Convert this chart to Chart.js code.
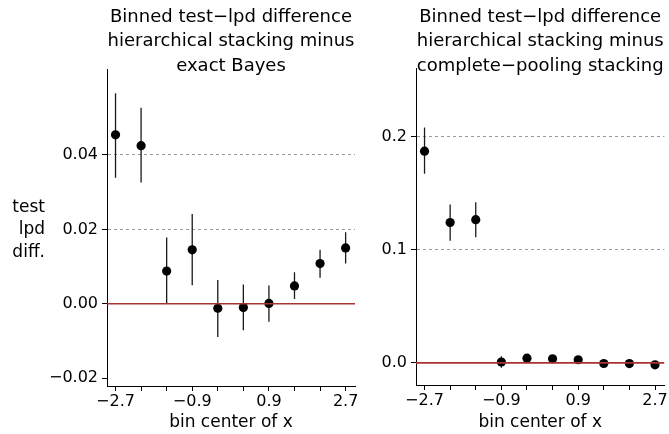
<!DOCTYPE html>
<html>
  <head>
    <title>Binned test-lpd difference</title>
    <script src="https://cdn.jsdelivr.net/npm/chart.js"></script>
    <style>
      body {
        margin: 0;
        background: #fff;
      }

      #wrap {
        position: relative;
        width: 669px;
        height: 434px;
      }

      canvas {
        position: absolute;
        top: 0;
      }
    </style>
  </head>
  <body>
    <div id="wrap">
      <canvas id="exactChart" width="360" height="434" style="left: 0"></canvas>
      <canvas id="poolChart" width="309" height="434" style="left: 360px"></canvas>
    </div>

    <script>
      // bin centres shared by both panels
      const binCenters = [-2.7, -2.1, -1.5, -0.9, -0.3, 0.3, 0.9, 1.5, 2.1, 2.7];
      const xTickLabels = [-2.7, -0.9, 0.9, 2.7];

      // left panel: hierarchical stacking minus exact Bayes
      const exactMean = [0.0454, 0.0425, 0.0088, 0.0145, -0.0012, -0.001, 0.0001, 0.0048, 0.0108, 0.015];
      const exactLow = [0.0339, 0.0326, 0.0, 0.005, -0.0089, -0.0071, -0.0048, 0.0013, 0.007, 0.0108];
      const exactHigh = [0.0566, 0.0527, 0.0178, 0.0241, 0.0064, 0.0052, 0.0049, 0.0085, 0.0145, 0.0192];
      const exactYTicks = [-0.02, 0.0, 0.02, 0.04];

      // right panel: hierarchical stacking minus complete-pooling stacking
      const poolMean = [0.187, 0.124, 0.1265, 0.0008, 0.0042, 0.0036, 0.0028, -0.0005, -0.0006, -0.0017];
      const poolLow = [0.167, 0.108, 0.111, -0.0042, 0.0012, 0.0008, 0.0004, -0.0028, -0.0028, -0.004];
      const poolHigh = [0.208, 0.14, 0.142, 0.0058, 0.0072, 0.0064, 0.0052, 0.0018, 0.0016, 0.0006];
      const poolYTicks = [0.0, 0.1, 0.2];

      const FONT = "'DejaVu Sans', sans-serif";
      const X_MIN = -2.9;
      const X_MAX = 2.92;

      function fmt(v, digits) {
        const s = Math.abs(v).toFixed(digits);
        return v < -1e-9 ? "\u2212" + s : s;
      }

      // vertical interval segments, broken by null gaps
      function intervalPoints(xs, lo, hi) {
        const pts = [];
        xs.forEach((x, i) => {
          pts.push({ x: x, y: lo[i] }, { x: x, y: hi[i] }, { x: x, y: null });
        });
        return pts;
      }

      // titles and axis labels drawn as text on the canvas
      const labelsPlugin = {
        id: "panelText",
        afterDraw(chart, args, opts) {
          const ctx = chart.ctx;
          const area = chart.chartArea;
          const cx = (area.left + area.right) / 2;
          ctx.save();
          ctx.fillStyle = "#000";
          ctx.textAlign = "center";
          ctx.textBaseline = "alphabetic";
          ctx.font = "18px " + FONT;
          opts.title.forEach((line, i) => {
            ctx.fillText(line, cx, 21.5 + i * 24.5);
          });
          ctx.font = "17px " + FONT;
          ctx.fillText("bin center of x", cx, 427);
          if (opts.yLabel) {
            ctx.textAlign = "right";
            opts.yLabel.forEach((line, i) => {
              ctx.fillText(line, 45, 211.5 + i * 22.5);
            });
          }
          ctx.restore();
        },
      };

      function drawPanel(id, cfg) {
        const ctx = document.getElementById(id).getContext("2d");
        return new Chart(ctx, {
          type: "scatter",
          data: {
            datasets: [
              {
                type: "line",
                data: [
                  { x: X_MIN, y: 0 },
                  { x: X_MAX, y: 0 },
                ],
                borderColor: "#a83232",
                borderWidth: 1.6,
                pointRadius: 0,
                order: 0,
              },
              {
                data: binCenters.map((x, i) => ({ x: x, y: cfg.mean[i] })),
                backgroundColor: "#000",
                borderWidth: 0,
                pointRadius: 4.6,
                order: 1,
              },
              {
                type: "line",
                data: intervalPoints(binCenters, cfg.low, cfg.high),
                borderColor: "#1a1a1a",
                borderWidth: 1.3,
                pointRadius: 0,
                spanGaps: false,
                order: 2,
              },
            ],
          },
          options: {
            responsive: false,
            animation: false,
            events: [],
            layout: {
              padding: { left: 0, top: cfg.top, right: cfg.right, bottom: 0 },
            },
            plugins: {
              legend: { display: false },
              tooltip: { enabled: false },
              panelText: { title: cfg.title, yLabel: cfg.yLabel },
            },
            scales: {
              x: {
                type: "linear",
                min: X_MIN,
                max: X_MAX,
                afterBuildTicks: (axis) => {
                  axis.ticks = binCenters.map((v) => ({ value: v }));
                },
                afterFit: (axis) => {
                  axis.height = cfg.xHeight;
                  axis.paddingLeft = 0;
                  axis.paddingRight = 0;
                },
                ticks: {
                  autoSkip: false,
                  maxRotation: 0,
                  padding: 1,
                  color: "#000",
                  font: { family: FONT, size: 16 },
                  callback: (v) =>
                    xTickLabels.some((t) => Math.abs(t - v) < 1e-6) ? fmt(v, 1) : "",
                },
                grid: {
                  drawOnChartArea: false,
                  tickLength: 5,
                  tickColor: "#000",
                },
                border: { display: true, color: "#000", width: 1 },
              },
              y: {
                min: cfg.yMin,
                max: cfg.yMax,
                afterBuildTicks: (axis) => {
                  axis.ticks = cfg.yTicks.map((v) => ({ value: v }));
                },
                afterFit: (axis) => {
                  axis.width = cfg.yWidth;
                  axis.paddingTop = 0;
                  axis.paddingBottom = 0;
                },
                ticks: {
                  padding: 4,
                  color: "#000",
                  font: { family: FONT, size: 16 },
                  callback: (v) => fmt(v, cfg.digits),
                },
                grid: {
                  color: (c) => (c.tick && c.tick.value > 1e-9 ? "#9a9a9a" : "rgba(0,0,0,0)"),
                  lineWidth: 1,
                  tickLength: 5,
                  tickColor: "#000",
                },
                border: { display: true, color: "#000", width: 1, dash: [3, 3] },
              },
            },
          },
          plugins: [labelsPlugin],
        });
      }

      drawPanel("exactChart", {
        mean: exactMean,
        low: exactLow,
        high: exactHigh,
        yTicks: exactYTicks,
        yMin: -0.0221,
        yMax: 0.0631,
        digits: 2,
        top: 69,
        right: 5,
        xHeight: 48,
        yWidth: 107,
        title: ["Binned test\u2212lpd difference", "hierarchical stacking minus", "exact Bayes"],
        yLabel: ["test", "lpd", "diff."],
      });

      drawPanel("poolChart", {
        mean: poolMean,
        low: poolLow,
        high: poolHigh,
        yTicks: poolYTicks,
        yMin: -0.0195,
        yMax: 0.2605,
        digits: 1,
        top: 68,
        right: 4,
        xHeight: 49,
        yWidth: 56,
        title: [
          "Binned test\u2212lpd difference",
          "hierarchical stacking minus",
          "complete\u2212pooling stacking",
        ],
        yLabel: null,
      });
    </script>
  </body>
</html>
